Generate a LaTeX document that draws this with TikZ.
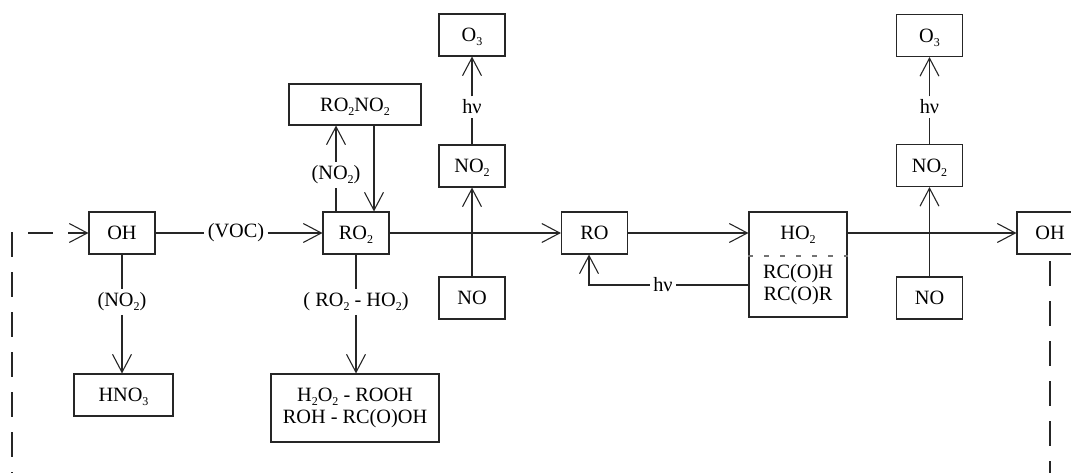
\documentclass[tikz,border=0pt]{standalone}
\usepackage{fontspec}
\setmainfont{Liberation Serif}
\usetikzlibrary{arrows.meta}
\newcommand\chsub[1]{\raisebox{-4pt}[0pt][0pt]{\fontsize{12}{12}\selectfont #1}}
\tikzset{
  box/.style={draw, line width=1.1pt, inner sep=0pt, minimum height=42pt, minimum width=66pt, align=center},
  lbl/.style={inner sep=3pt},
  arr/.style={-{Straight Barb[length=18pt,width=19pt]}},
  loopline/.style={{Straight Barb[length=18pt,width=19pt]}-, dash pattern=on 25pt off 15pt, dash phase=6pt},
  sepline/.style={draw=black!55, dash pattern=on 5pt off 11pt}
}
\begin{document}
\begin{tikzpicture}[x=1pt,y=-1pt,line width=1.1pt,draw=black!85,
  font=\fontsize{20.3}{22}\selectfont]
\useasboundingbox (0,0) rectangle (1071,473);
% main row
\node[box] (oh1) at (122,233) {OH};
\node[box] (ro2) at (356,233) {RO\chsub{2}};
\node[box] (ro) at (594.5,233) {RO};
\node[box, minimum width=98pt, minimum height=105pt] (ho2) at (798,264.5) {};
\node (ho2t) at (798,233) {HO\chsub{2}};
\node[align=center] (rcoh) at (798,284.5) {RC(O)H\\RC(O)R};
\node[box] (oh2) at (1050,233) {OH};
% columns
\node[box] (o3a) at (472,35) {O\chsub{3}};
\node[box] (no2a) at (472,166) {NO\chsub{2}};
\node[box] (noa) at (472,298) {NO};
\node[box] (o3b) at (929.5,35.5) {O\chsub{3}};
\node[box] (no2b) at (929.5,165.5) {NO\chsub{2}};
\node[box] (nob) at (929.5,298) {NO};
\node[box, minimum width=132pt, minimum height=41pt] (rono) at (355,104.5) {RO\chsub{2}NO\chsub{2}};
\node[box, minimum width=99pt] (hno3) at (123.5,395) {HNO\chsub{3}};
\node[box, minimum width=168pt, minimum height=68pt] (prod) at (355,408) {H\chsub{2}O\chsub{2} - ROOH\\ROH - RC(O)OH};
% labels
\node[lbl] (voc) at (236,233) {(VOC)};
\node[lbl] (n2a) at (122,302) {(NO\chsub{2})};
\node[lbl] (rh) at (356,302) {( RO\chsub{2} - HO\chsub{2})};
\node[lbl] (n2b) at (336,175) {(NO\chsub{2})};
\node[lbl] (hv1) at (472,107) {hν};
\node[lbl] (hv2) at (929.5,107) {hν};
\node[lbl] (hv3) at (663,285) {hν};
% connectors
\draw (oh1.east) -- (voc.west);
\draw[arr] (voc.east) -- (ro2.west);
\draw[arr] (ro2.east) -- (ro.west);
\draw[arr] (ro.east) -- (ro.east -| ho2.west);
\draw[arr] (ho2.east |- oh2.west) -- (oh2.west);
\draw (oh1.south) -- (n2a.north);
\draw[arr] (n2a.south) -- (n2a.south |- hno3.north);
\draw (ro2.south) -- (rh.north);
\draw[arr] (rh.south) -- (rh.south |- prod.north);
\draw (n2b.south |- ro2.north) -- (n2b.south);
\draw[arr] (n2b.north) -- (n2b.north |- rono.south);
\draw[arr] ([xshift=19pt]rono.south) -- ([xshift=19pt]rono.south |- ro2.north);
\draw[arr] (noa.north) -- (no2a.south);
\draw (no2a.north) -- (hv1.south);
\draw[arr] (hv1.north) -- (o3a.south);
\draw[arr] (nob.north) -- (no2b.south);
\draw (no2b.north) -- (hv2.south);
\draw[arr] (hv2.north) -- (o3b.south);
\draw (hv3.east) -- (hv3.east -| ho2.west);
\draw[arr] (hv3.west) -| ([xshift=-5.5pt]ro.south);
\draw[sepline] (ho2.west |- 0,256) -- (ho2.east |- 0,256);
% dashed recycling loop
\coordinate (tl) at (12,233);
\coordinate (bl) at (12,520);
\coordinate (br) at (1050,520);
\draw[loopline] (oh1.west) -- (tl) -- (bl) -- (br) -- (oh2.south);
\end{tikzpicture}
\end{document}
